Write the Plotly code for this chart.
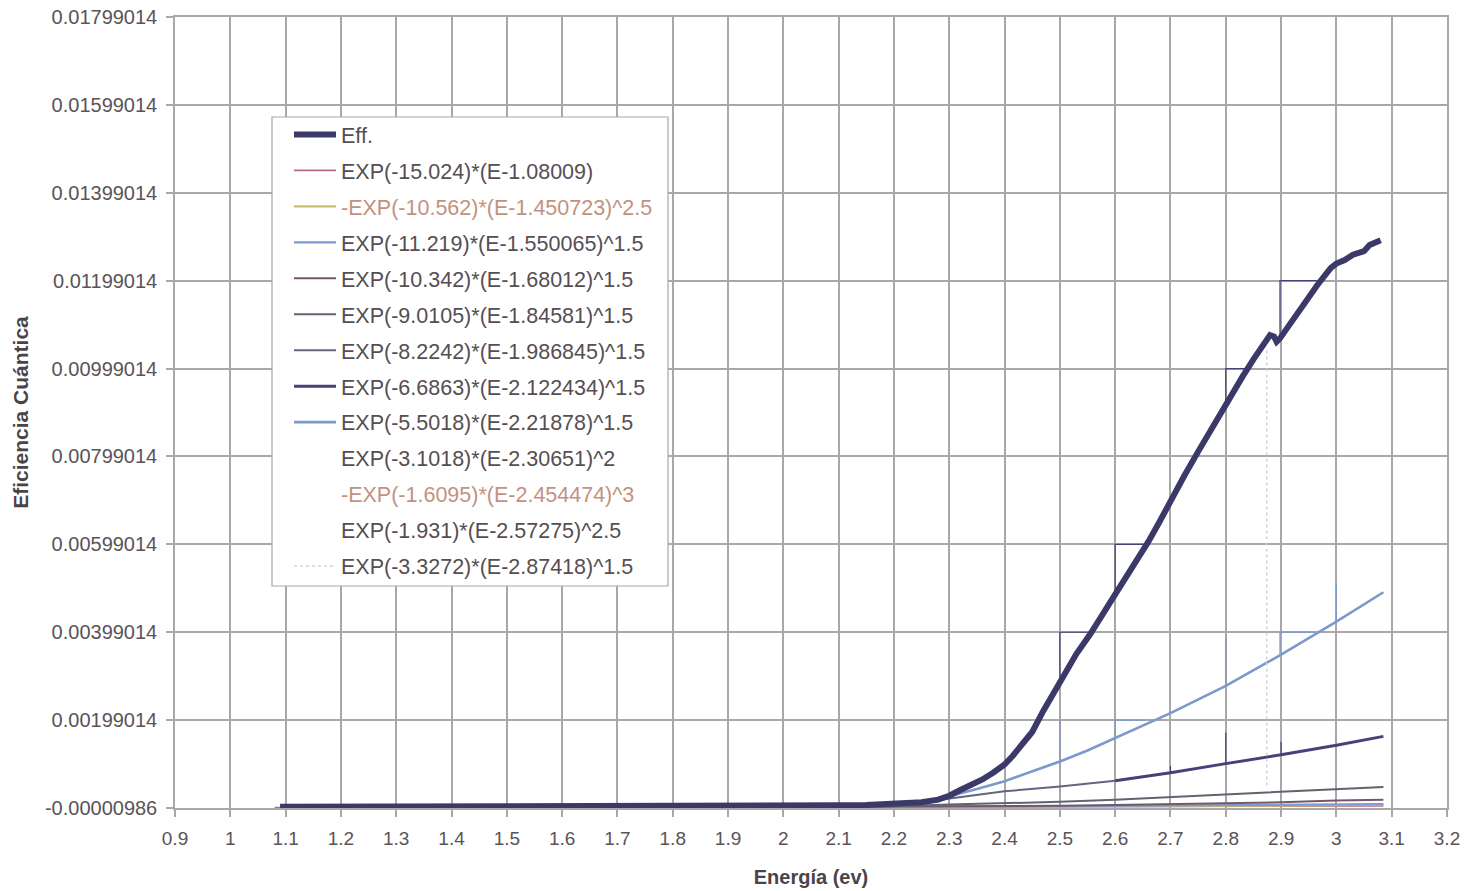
import plotly.graph_objects as go

# Quantum efficiency curve (Eff) versus photon energy
eff_e = [1.09, 1.2, 1.3, 1.4, 1.5, 1.6, 1.7, 1.8, 1.9, 2.0, 2.1, 2.15, 2.2, 2.23, 2.25, 2.28,
         2.30, 2.32, 2.34, 2.36, 2.38, 2.40, 2.415, 2.43, 2.45, 2.47, 2.485, 2.5, 2.515, 2.53,
         2.555, 2.58, 2.6, 2.62, 2.64, 2.66, 2.68, 2.7, 2.725, 2.75, 2.775, 2.8, 2.815, 2.83,
         2.85, 2.86, 2.87, 2.88, 2.887, 2.892, 2.897, 2.91, 2.92, 2.935, 2.95, 2.965, 2.98,
         2.99, 3.0, 3.015, 3.03, 3.04, 3.05, 3.06, 3.07, 3.08]
eff_q = [0.00002, 0.00002, 0.00002, 0.00002, 0.00002, 0.00002, 0.00003, 0.00003, 0.00004,
         0.00004, 0.00005, 0.00006, 0.00008, 0.00010, 0.00012, 0.00018, 0.00027, 0.00040,
         0.00052, 0.00064, 0.00080, 0.00098, 0.00118, 0.00140, 0.00172, 0.00220, 0.00252,
         0.00284, 0.00318, 0.00350, 0.00395, 0.00442, 0.00485, 0.00525, 0.00564, 0.00605,
         0.00650, 0.00700, 0.00755, 0.00810, 0.00865, 0.00920, 0.00950, 0.00980, 0.01020,
         0.01040, 0.01058, 0.01075, 0.01072, 0.01060, 0.01066, 0.01090, 0.01110, 0.01135,
         0.01160, 0.01188, 0.01212, 0.01228, 0.01238, 0.01246, 0.01258, 0.01262, 0.01266,
         0.01280, 0.01287, 0.01291]

# Fitted absorption-edge segments
f1_e = [1.08, 1.5, 2.0, 2.5, 3.085]
f1_q = [0.0, 0.000005, 0.00001, 0.00002, 0.00004]

f2_e = [1.45, 2.0, 2.5, 3.085]
f2_q = [0.0, 0.000005, 0.00002, 0.00006]

f3_e = [1.55, 2.0, 2.5, 3.085]
f3_q = [0.0, 0.000008, 0.00003, 0.00008]

f4_e = [1.68, 2.0, 2.3, 2.5, 2.6, 2.7, 2.8, 2.9, 3.0, 3.085]
f4_q = [0.0, 0.00001, 0.00002, 0.00004, 0.00006, 0.00008, 0.00010, 0.00012, 0.00016, 0.00018]

f5_e = [1.85, 2.1, 2.2, 2.3, 2.4, 2.5, 2.6, 2.7, 2.8, 2.9, 3.0, 3.085]
f5_q = [0.0, 0.00002, 0.00003, 0.00007, 0.00010, 0.00013, 0.00018, 0.00024, 0.00031,
        0.00036, 0.00043, 0.00047]

f6_e = [1.99, 2.1, 2.2, 2.25, 2.31, 2.4, 2.5, 2.6]
f6_q = [0.0, 0.00002, 0.00005, 0.00012, 0.00022, 0.00037, 0.00048, 0.00061]

f7_e = [2.6, 2.7, 2.8, 2.9, 3.0, 3.085]
f7_q = [0.00061, 0.00079, 0.00100, 0.00120, 0.00142, 0.00162]

f8_e = [2.22, 2.26, 2.30, 2.35, 2.40, 2.45, 2.5, 2.55, 2.6, 2.7, 2.8, 2.9, 3.0, 3.085]
f8_q = [0.00006, 0.00014, 0.00026, 0.00042, 0.00060, 0.00082, 0.00105, 0.00130, 0.00158,
        0.00215, 0.00277, 0.00348, 0.00423, 0.00490]

f9_e = [2.32, 2.36, 2.40, 2.43, 2.45]
f9_q = [0.00040, 0.00064, 0.00098, 0.00140, 0.00172]

f10_e = [2.45, 2.47, 2.5, 2.53, 2.555]
f10_q = [0.00172, 0.00220, 0.00284, 0.00350, 0.00395]

f11_e = [2.58, 2.6, 2.65, 2.7, 2.75, 2.8, 2.85, 2.87]
f11_q = [0.00442, 0.00485, 0.00585, 0.00700, 0.00810, 0.00920, 0.01020, 0.01058]

f12_e = [2.874, 2.874]
f12_q = [0.0005, 0.0104]

# Thin step segments around the curves (None breaks the line)
step_dark_e = [2.5, 2.5, 2.555, None, 2.6, 2.6, 2.652, None, 2.8, 2.8, 2.843, None,
               2.898, 2.898, 2.965, None, 2.8, 2.8, None, 2.9, 2.9, None, 2.7, 2.7]
step_dark_q = [0.00284, 0.00399, 0.00399, None, 0.00485, 0.00599, 0.00599, None,
               0.00920, 0.00999, 0.00999, None, 0.01066, 0.01199, 0.01199, None,
               0.00100, 0.00170, None, 0.00120, 0.00150, None, 0.00079, 0.00095]
step_blue_e = [2.6, 2.6, 2.654, None, 2.898, 2.898, 2.961, None, 3.0, 3.0, None,
               2.8, 2.8, None, 2.5, 2.5]
step_blue_q = [0.00158, 0.00199, 0.00199, None, 0.00348, 0.00399, 0.00399, None,
               0.00423, 0.00510, None, 0.00277, 0.00385, None, 0.00105, 0.00199]

x_ticks = [0.9, 1.0, 1.1, 1.2, 1.3, 1.4, 1.5, 1.6, 1.7, 1.8, 1.9, 2.0, 2.1, 2.2, 2.3,
           2.4, 2.5, 2.6, 2.7, 2.8, 2.9, 3.0, 3.1, 3.2]
x_labels = ["0.9", "1", "1.1", "1.2", "1.3", "1.4", "1.5", "1.6", "1.7", "1.8", "1.9", "2",
            "2.1", "2.2", "2.3", "2.4", "2.5", "2.6", "2.7", "2.8", "2.9", "3", "3.1", "3.2"]
y_ticks = [-0.00000986, 0.00199014, 0.00399014, 0.00599014, 0.00799014, 0.00999014,
           0.01199014, 0.01399014, 0.01599014, 0.01799014]
y_labels = ["-0.00000986", "0.00199014", "0.00399014", "0.00599014", "0.00799014",
            "0.00999014", "0.01199014", "0.01399014", "0.01599014", "0.01799014"]

BROWN = "#c3927e"
fits = [
    ("EXP(-15.024)*(E-1.08009)", f1_e, f1_q, "#b86a8c", 1.8, "solid"),
    ('<span style="color:%s">-EXP(-10.562)*(E-1.450723)^2.5</span>' % BROWN, f2_e, f2_q, "#cdbd6a", 2.2, "solid"),
    ("EXP(-11.219)*(E-1.550065)^1.5", f3_e, f3_q, "#7d9bd0", 2.2, "solid"),
    ("EXP(-10.342)*(E-1.68012)^1.5", f4_e, f4_q, "#74586a", 2.0, "solid"),
    ("EXP(-9.0105)*(E-1.84581)^1.5", f5_e, f5_q, "#5d6670", 2.0, "solid"),
    ("EXP(-8.2242)*(E-1.986845)^1.5", f6_e, f6_q, "#626482", 2.0, "solid"),
    ("EXP(-6.6863)*(E-2.122434)^1.5", f7_e, f7_q, "#47417a", 3.0, "solid"),
    ("EXP(-5.5018)*(E-2.21878)^1.5", f8_e, f8_q, "#7c99cc", 2.6, "solid"),
    ("EXP(-3.1018)*(E-2.30651)^2", f9_e, f9_q, "#ffffff", 1.5, "solid"),
    ('<span style="color:%s">-EXP(-1.6095)*(E-2.454474)^3</span>' % BROWN, f10_e, f10_q, "#ffffff", 1.5, "solid"),
    ("EXP(-1.931)*(E-2.57275)^2.5", f11_e, f11_q, "#ffffff", 1.5, "solid"),
    ("EXP(-3.3272)*(E-2.87418)^1.5", f12_e, f12_q, "#d2d2d8", 1.5, "dot"),
]

fig = go.Figure()

for i, (name, xs, ys, col, w, dash) in enumerate(fits):
    fig.add_trace(go.Scatter(
        x=xs, y=ys, mode="lines", name=name, legendrank=i + 2,
        legendgroup="g%d" % i,
        line=dict(color=col, width=w, dash=dash),
    ))

fig.add_trace(go.Scatter(x=step_blue_e, y=step_blue_q, mode="lines", showlegend=False,
                         line=dict(color="#7c99cc", width=1.2), hoverinfo="skip"))
fig.add_trace(go.Scatter(x=step_dark_e, y=step_dark_q, mode="lines", showlegend=False,
                         line=dict(color="#47417a", width=1.2), hoverinfo="skip"))

fig.add_trace(go.Scatter(
    x=eff_e, y=eff_q, mode="lines", name="Eff.", legendrank=1, legendgroup="eff",
    line=dict(color="#3b3968", width=6),
))

GRID = "#aaa6aa"
TXT = "#5a5358"
FONT = "Liberation Sans, Arial, sans-serif"
L, R, T, B = 175, 19, 17, 83
PW, PH = 1466 - L - R, 891 - T - B

# Legend frame drawn as a shape so the entries can sit further inside it
fig.add_shape(type="rect", xref="paper", yref="paper",
              x0=(272 - L) / PW, x1=(668 - L) / PW,
              y0=(891 - B - 586) / PH, y1=(891 - B - 117) / PH,
              fillcolor="white", line=dict(color="#aaa6aa", width=1.2), layer="above")

fig.update_layout(
    width=1466, height=891,
    paper_bgcolor="white", plot_bgcolor="white",
    margin=dict(l=L, r=R, t=T, b=B),
    font=dict(family=FONT, size=19, color=TXT),
    showlegend=True,
    legend=dict(
        x=(289 - L) / PW, y=(891 - B - 114) / PH, xanchor="left", yanchor="top",
        bgcolor="rgba(0,0,0,0)", borderwidth=0,
        font=dict(family=FONT, size=21.5, color="#564e52"),
        tracegroupgap=5, itemwidth=42,
    ),
    xaxis=dict(
        range=[0.9, 3.2], tickmode="array", tickvals=x_ticks, ticktext=x_labels,
        automargin=False,
        showgrid=True, gridcolor=GRID, gridwidth=1.5,
        showline=True, linecolor=GRID, linewidth=1.5, mirror=True,
        ticks="outside", ticklen=7, tickcolor=GRID, tickwidth=1.5,
        zeroline=False, tickfont=dict(size=19, color=TXT), ticklabelstandoff=5,
        title=dict(text="<b>Energía (ev)</b>", font=dict(size=20, color="#4a4448"), standoff=22),
    ),
    yaxis=dict(
        range=[-0.00000986, 0.01799014], tickmode="array", tickvals=y_ticks, ticktext=y_labels,
        automargin=False,
        showgrid=True, gridcolor=GRID, gridwidth=1.5,
        showline=True, linecolor=GRID, linewidth=1.5, mirror=True,
        ticks="outside", ticklen=7, tickcolor=GRID, tickwidth=1.5,
        zeroline=False, tickfont=dict(size=20, color=TXT), ticklabelstandoff=5,
        title=dict(text="<b>Eficiencia Cuántica</b>", font=dict(size=21, color="#4a4448"), standoff=11),
    ),
)

fig.write_html("out.html")
